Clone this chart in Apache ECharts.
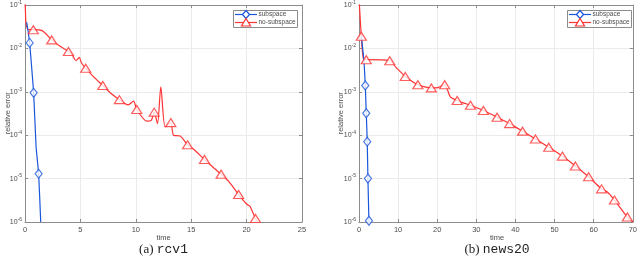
<!DOCTYPE html>
<html>
<head>
<meta charset="utf-8">
<script src="https://cdn.jsdelivr.net/npm/echarts@6/dist/echarts.min.js"></script>
<style>
html,body{margin:0;padding:0;background:#fff;}
#c{width:640px;height:266px;}
</style>
</head>
<body>
<div id="c"></div>
<script>
// ---- data (time, relative error) ----
// Panel (a) rcv1
const rcvXTicks = [0, 5, 10, 15, 20, 25];
const rcvSubLine = [[0.15, 0.04], [0.25, 0.028], [1.0, 5.4e-5], [1.42, 1e-6]];
const rcvSubMarks = [[0.42, 0.0134], [0.78, 9.5e-4], [1.23, 1.3e-5]];
const rcvNoLine = [[0, 0.15], [0.05, 0.06], [0.1, 0.036], [0.3, 0.027], [1.5, 0.026], [3.2, 0.011],
  [4.3, 0.0068], [4.6, 0.0052], [4.9, 0.0062], [5.1, 0.0046], [6.2, 0.0022], [7.8, 0.0009],
  [9.3, 5e-4], [9.8, 6.1e-4], [11.0, 2.1e-4], [11.4, 2.2e-4], [11.96, 1.85e-4], [12.26, 1.3e-3],
  [12.65, 1.55e-4], [13.4, 1.0e-4], [14.0, 9.6e-5], [15.2, 4.8e-5], [16.9, 1.9e-5],
  [18.4, 8.5e-6], [20.0, 2.6e-6], [20.3, 2.3e-6], [21.0, 1e-6]];
const rcvNoMarks = [[0.75, 0.027], [2.41, 0.0157], [3.92, 0.0085], [5.48, 0.0035], [7.02, 0.0014],
  [8.52, 6.6e-4], [10.09, 3.9e-4], [11.66, 3.4e-4], [13.16, 1.95e-4], [14.67, 6e-5],
  [16.2, 2.75e-5], [17.7, 1.26e-5], [19.28, 4.3e-6], [20.8, 1.2e-6]];

// Panel (b) news20
const newsXTicks = [0, 10, 20, 30, 40, 50, 60, 70];
const newsSubLine = [[0.6, 0.019], [1.27, 5.2e-3], [2.54, 1.0e-6]];
const newsSubMarks = [[1.61, 1.4e-3], [1.86, 3.2e-4], [2.11, 7.1e-5], [2.28, 1.0e-5], [2.54, 1.07e-6]];
const newsNoLine = [[0, 0.15], [0.3, 0.05], [1.18, 5.5e-3], [9.5, 3.6e-3], [13.5, 1.75e-3],
  [16.8, 1.3e-3], [20.2, 1.25e-3], [23.4, 7.5e-4], [26.8, 5.5e-4], [63.5, 4.9e-6], [70, 1e-6]];
const newsNoMarks = [[0.59, 0.019], [1.86, 5.5e-3], [7.86, 5.2e-3], [11.83, 2.26e-3], [15.05, 1.45e-3],
  [18.5, 1.23e-3], [21.9, 1.45e-3], [25.1, 6.3e-4], [28.5, 4.9e-4], [31.8, 3.7e-4], [35.3, 2.6e-4],
  [38.5, 1.85e-4], [41.8, 1.24e-4], [45.1, 8.2e-5], [48.5, 5.3e-5], [52.0, 3.3e-5], [55.3, 1.95e-5],
  [58.7, 1.1e-5], [62.0, 5.8e-6], [65.3, 3.2e-6], [68.6, 1.3e-6]];

const yTickExps = [-6, -5, -4, -3, -2, -1];
const seriesNames = ['subspace', 'no-subspace'];
const captions = [['(a) ', 'rcv1'], ['(b) ', 'news20']];

// ---- chart ----
const BLUE = '#1a56db', RED = '#ff3333', AX = '#8c8c8c', TXT = '#4d4d4d';
const merge = (a, b) => a.concat(b).sort((p, q) => p[0] - q[0]);

const panels = [
  {left: 25, width: 277, xmax: 25, xint: 5, ticks: rcvXTicks,
   sub: [rcvSubLine, rcvSubMarks], no: [rcvNoLine, rcvNoMarks], ylabX: 4, leg: [233, 10]},
  {left: 359, width: 276, xmax: 70, xint: 10, ticks: newsXTicks,
   sub: [newsSubLine, newsSubMarks], no: [newsNoLine, newsNoMarks], ylabX: 337, leg: [567, 10]}
];

const grid = [], xAxis = [], yAxis = [], series = [], graphic = [];
const TOP = 4.5, H = 217.5;
panels.forEach((p, i) => {
  grid.push({left: p.left, top: TOP, width: p.width, height: H, show: false});
  const xa = {
    type: 'value', gridIndex: i, min: 0, max: p.xmax, interval: p.xint,
    axisLine: {show: true, onZero: false, lineStyle: {color: AX, width: 1}},
    axisTick: {show: true, inside: true, length: 3, lineStyle: {color: AX}},
    splitLine: {show: true, lineStyle: {color: '#ebebeb', width: 1}}
  };
  xAxis.push(Object.assign({}, xa, {position: 'bottom',
    axisLabel: {show: true, color: TXT, fontSize: 7.5, fontFamily: 'Liberation Sans', margin: 4,
      formatter: v => p.ticks.includes(v) ? String(v) : ''}}));
  xAxis.push(Object.assign({}, xa, {position: 'top', axisLabel: {show: false}, splitLine: {show: false}}));
  const ya = {
    type: 'log', logBase: 10, gridIndex: i, min: 1e-6, max: 1e-1,
    axisLine: {show: true, onZero: false, lineStyle: {color: AX, width: 1}},
    axisTick: {show: true, inside: true, length: 3, lineStyle: {color: AX}},
    minorTick: {show: false},
    splitLine: {show: true, lineStyle: {color: '#ebebeb', width: 1}}
  };
  yAxis.push(Object.assign({}, ya, {position: 'left',
    axisLabel: {show: true, margin: 3, color: TXT, fontSize: 7, fontFamily: 'Liberation Sans',
      formatter: v => {
        const e = Math.round(Math.log10(v));
        return yTickExps.includes(e) ? '10{s|' + e + '}' : '';
      },
      rich: {s: {fontSize: 5, verticalAlign: 'top', padding: [0, 0, 5, 0], color: TXT}}}}));
  yAxis.push(Object.assign({}, ya, {position: 'right', axisLabel: {show: false}, splitLine: {show: false}}));

  const xi = i * 2, yi = i * 2;
  const addCurve = (name, pair, color, symbol, size, smooth) => {
    series.push({name: name, type: 'line', xAxisIndex: xi, yAxisIndex: yi, data: merge(pair[0], pair[1]),
      showSymbol: false, smooth: smooth, lineStyle: {color: color, width: 1.2}, itemStyle: {color: color},
      clip: true, z: 2, silent: true, animation: false});
    series.push({name: name + '_m', type: 'scatter', xAxisIndex: xi, yAxisIndex: yi, data: pair[1],
      symbol: symbol, symbolSize: size,
      itemStyle: {color: '#fff', borderColor: color, borderWidth: 1.2}, z: 3, silent: true, animation: false});
  };
  addCurve(seriesNames[1], p.no, RED, 'triangle', [10, 8], 0.25);
  addCurve(seriesNames[0], p.sub, BLUE, 'diamond', [7, 9], 0.1);

  // axis names
  graphic.push({type: 'text', x: p.ylabX, y: TOP + H / 2, rotation: Math.PI / 2,
    style: {text: 'relative error', fill: TXT, fontSize: 7.5, fontFamily: 'Liberation Sans',
      align: 'center', verticalAlign: 'top'}});
  graphic.push({type: 'text', x: p.left + p.width / 2, y: 238,
    style: {text: 'time', fill: TXT, fontSize: 7.5, fontFamily: 'Liberation Sans',
      align: 'center', verticalAlign: 'middle'}});
  // legend box
  const lx = p.leg[0], ly = p.leg[1];
  graphic.push({type: 'rect', shape: {x: lx + 0.5, y: ly + 0.5, width: 64, height: 17},
    style: {fill: '#fff', stroke: '#8c8c8c', lineWidth: 1}, z: 10});
  [[BLUE, 'diamond', 0], [RED, 'triangle', 1]].forEach(([c, sym, k]) => {
    const yy = ly + 4.5 + k * 8;
    graphic.push({type: 'line', shape: {x1: lx + 2, y1: yy, x2: lx + 24, y2: yy},
      style: {stroke: c, lineWidth: 1.2}, z: 11});
    if (sym === 'diamond') {
      graphic.push({type: 'polygon', shape: {points: [[lx + 13, yy - 4], [lx + 16.5, yy], [lx + 13, yy + 4], [lx + 9.5, yy]]},
        style: {fill: '#fff', stroke: c, lineWidth: 1.2}, z: 12});
    } else {
      graphic.push({type: 'polygon', shape: {points: [[lx + 13, yy - 4], [lx + 17.5, yy + 3.5], [lx + 8.5, yy + 3.5]]},
        style: {fill: '#fff', stroke: c, lineWidth: 1.2}, z: 12});
    }
    graphic.push({type: 'text', x: lx + 25.5, y: yy, style: {text: seriesNames[k], fill: TXT,
      fontSize: 6.5, fontFamily: 'Liberation Sans', verticalAlign: 'middle'}, z: 12});
  });
  // caption
  graphic.push({type: 'text', x: p.left + p.width / 2, y: 250,
    style: {rich: {a: {fontFamily: 'Liberation Serif', fontSize: 13, fill: '#222'},
                   b: {fontFamily: 'Liberation Mono', fontSize: 13, fill: '#222'}},
      text: '{a|' + captions[i][0] + '}{b|' + captions[i][1] + '}',
      align: 'center', verticalAlign: 'middle'}});
});

const chart = echarts.init(document.getElementById('c'), null, {renderer: 'canvas'});
chart.setOption({animation: false, backgroundColor: '#fff', grid, xAxis, yAxis, series, graphic});
</script>
</body>
</html>
